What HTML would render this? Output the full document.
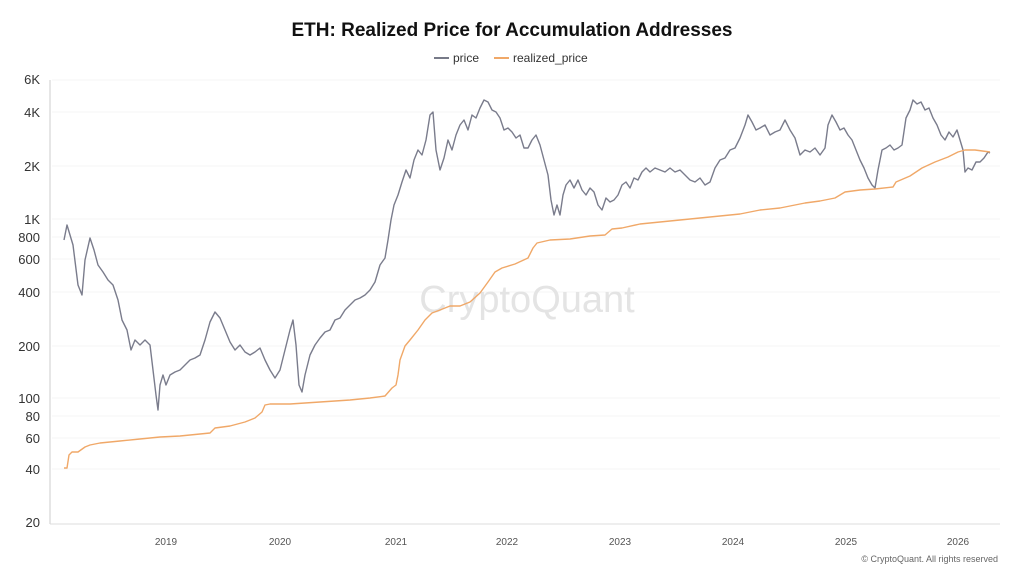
<!DOCTYPE html>
<html><head><meta charset="utf-8"><style>
body{margin:0;background:#fff;}
svg{display:block;font-family:"Liberation Sans",sans-serif;}
</style></head><body>
<svg width="1024" height="576" viewBox="0 0 1024 576">
<rect width="1024" height="576" fill="#fff"/>
<text x="512" y="36" text-anchor="middle" font-size="19" font-weight="bold" fill="#111">ETH: Realized Price for Accumulation Addresses</text>
<line x1="434" y1="58" x2="449" y2="58" stroke="#777a88" stroke-width="2"/>
<text x="453" y="62" font-size="12" fill="#333">price</text>
<line x1="494" y1="58" x2="509" y2="58" stroke="#f0a868" stroke-width="2"/>
<text x="513" y="62" font-size="12" fill="#333">realized_price</text>
<g stroke="#f5f5f5" stroke-width="1">
<line x1="52" x2="1000" y1="80" y2="80"/><line x1="52" x2="1000" y1="112" y2="112"/><line x1="52" x2="1000" y1="166" y2="166"/><line x1="52" x2="1000" y1="219" y2="219"/><line x1="52" x2="1000" y1="237" y2="237"/><line x1="52" x2="1000" y1="259" y2="259"/><line x1="52" x2="1000" y1="292" y2="292"/><line x1="52" x2="1000" y1="346" y2="346"/><line x1="52" x2="1000" y1="398" y2="398"/><line x1="52" x2="1000" y1="416" y2="416"/><line x1="52" x2="1000" y1="438" y2="438"/><line x1="52" x2="1000" y1="469" y2="469"/>
</g>
<line x1="50" y1="80" x2="50" y2="524" stroke="#ddd" stroke-width="1.5"/>
<line x1="50" y1="524" x2="1000" y2="524" stroke="#ddd" stroke-width="1"/>
<g font-size="13" fill="#333" text-anchor="end">
<text x="40" y="84">6K</text><text x="40" y="117">4K</text><text x="40" y="171">2K</text><text x="40" y="224">1K</text><text x="40" y="242">800</text><text x="40" y="264">600</text><text x="40" y="297">400</text><text x="40" y="351">200</text><text x="40" y="403">100</text><text x="40" y="421">80</text><text x="40" y="443">60</text><text x="40" y="474">40</text><text x="40" y="527">20</text>
</g>
<g font-size="10" fill="#555" text-anchor="middle">
<text x="166" y="545">2019</text><text x="280" y="545">2020</text><text x="396" y="545">2021</text><text x="507" y="545">2022</text><text x="620" y="545">2023</text><text x="733" y="545">2024</text><text x="846" y="545">2025</text><text x="958" y="545">2026</text>
</g>
<text x="527" y="312" text-anchor="middle" font-size="38" fill="#e4e4e4">CryptoQuant</text>
<polyline fill="none" stroke="#7a7c8c" stroke-width="1.4" stroke-linejoin="round" points="64,240 67,225 70,235 73,245 78,285 82,295 85,260 90,238 94,250 98,265 103,272 108,280 113,285 118,300 122,320 127,330 131,350 135,340 140,345 145,340 150,345 153,370 156,395 158,410 160,385 163,375 166,385 170,375 175,372 180,370 185,365 190,360 195,358 200,355 205,340 210,322 215,312 220,318 225,330 230,342 235,350 240,345 245,352 250,355 255,352 260,348 265,360 270,370 275,378 280,370 285,350 290,330 293,320 296,345 299,385 302,392 305,375 310,355 315,345 320,338 325,332 330,330 335,320 340,318 345,310 350,305 355,300 360,298 365,295 370,290 375,282 380,265 385,258 388,240 391,220 394,205 398,195 402,182 406,170 410,178 414,160 418,150 422,155 426,140 430,115 433,112 436,150 440,170 444,158 448,140 452,150 456,135 460,125 464,120 468,130 472,115 476,118 480,108 484,100 488,102 492,110 496,112 500,118 504,130 508,128 512,132 516,138 520,135 524,148 528,148 532,140 536,135 540,145 544,160 548,175 551,200 554,215 557,205 560,215 563,195 566,185 570,180 574,188 578,180 582,190 586,195 590,188 594,192 598,205 602,210 606,198 610,202 614,200 618,195 622,185 626,182 630,188 634,178 638,180 642,172 646,168 650,172 655,168 660,170 665,172 670,168 675,172 680,170 685,175 690,180 695,182 700,178 705,185 710,182 715,168 720,160 725,158 730,150 735,148 740,138 745,125 748,115 752,122 756,130 760,128 765,125 770,135 775,132 780,130 785,120 790,130 795,138 800,155 805,150 810,152 815,148 820,155 825,148 828,125 832,115 836,122 840,130 844,128 848,135 852,140 856,150 860,160 864,168 868,178 872,185 875,188 878,170 882,150 886,148 890,145 894,150 898,148 902,145 906,118 910,110 913,100 917,104 921,102 925,110 929,108 933,118 937,125 941,135 945,140 949,132 953,137 957,130 960,140 963,150 965,172 968,168 972,170 976,162 980,162 984,158 988,152 990,153"/>
<polyline fill="none" stroke="#f0a868" stroke-width="1.4" stroke-linejoin="round" points="64,468 67,468 69,455 72,452 78,452 85,447 90,445 100,443 120,441 140,439 160,437 180,436 200,434 210,433 215,428 230,426 245,422 255,418 262,412 265,405 270,404 290,404 320,402 350,400 370,398 385,396 392,388 396,385 398,375 400,360 405,346 410,340 418,330 425,320 432,313 440,310 450,306 460,306 470,302 480,293 488,282 495,272 502,268 515,264 528,258 533,248 537,243 550,240 570,239 590,236 605,235 612,229 622,228 640,224 660,222 680,220 700,218 720,216 740,214 760,210 780,208 795,205 805,203 820,201 835,198 845,192 860,190 875,189 893,187 896,182 910,176 922,168 935,162 948,157 958,152 965,150 975,150 990,152"/>
<text x="998" y="562" text-anchor="end" font-size="9" fill="#666">© CryptoQuant. All rights reserved</text>
</svg>
</body></html>
